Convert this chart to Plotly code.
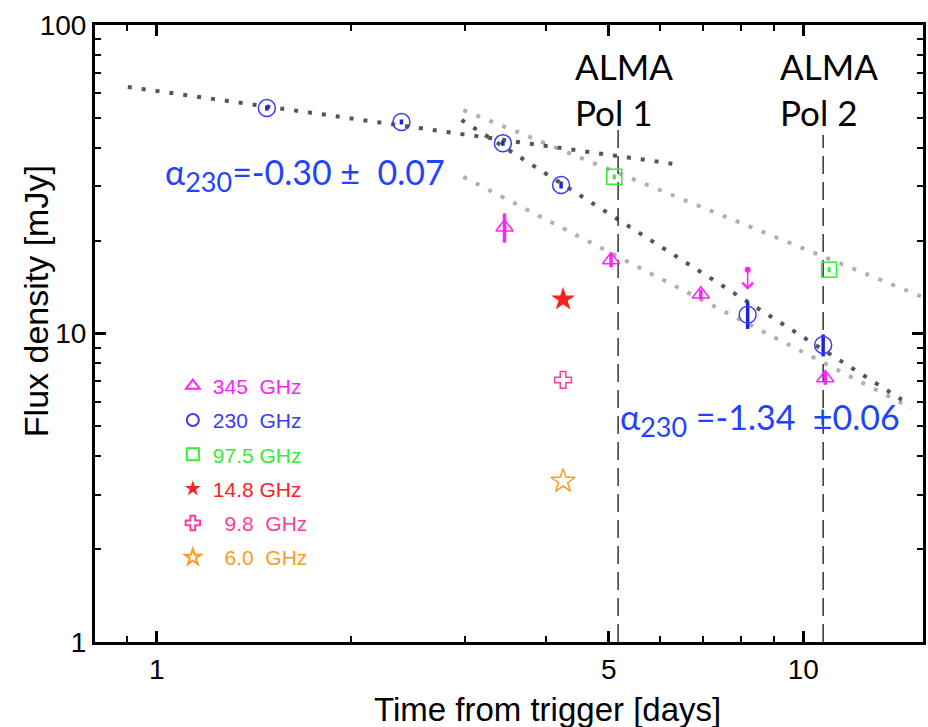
import numpy as np
import plotly.graph_objects as go

# ---------------- data ----------------
# 345 GHz
t345 = [3.45, 5.04, 6.94, 10.81]
f345 = [22.1, 17.3, 13.4, 7.17]
e345 = [2.4, 0.9, 0.5, 0.35]
# 345 GHz upper limit
t345_ul = [8.2]
f345_ul = [16.1]
# 230 GHz
t230 = [1.48, 2.39, 3.43, 4.22, 8.20, 10.73]
f230 = [53.8, 48.5, 41.4, 30.3, 11.5, 9.18]
e230 = [1.0, 0.9, 0.8, 0.8, 1.15, 0.75]
# 97.5 GHz
t975 = [5.10, 10.96]
f975 = [32.2, 16.1]
e975 = [0.6, 0.3]
# 14.8, 9.8, 6.0 GHz
t148 = [4.25]
f148 = [12.9]
t98 = [4.25]
f98 = [7.07]
t60 = [4.25]
f60 = [3.32]

# power-law fits (dotted lines)
fit_early_t = [0.902, 6.33]
fit_early_f = [63.0, 35.4]
fit_late_t = [2.96, 14.2]
fit_late_f = [49.2, 6.1]
fit_975_t = [2.98, 15.2]
fit_975_f = [53.0, 13.2]
fit_345_t = [2.98, 14.7]
fit_345_f = [32.2, 5.73]

# ALMA polarisation epochs
pol_t = [5.17, 10.73]
pol_top = [46.7, 44.0]
pol_labels = ["ALMA<br>Pol 1", "ALMA<br>Pol 2"]

# ---------------- figure ----------------
C345 = "#ff22ff"
C230 = "#3a3aff"
C975 = "#33ee33"
C148 = "#ff2020"
C98 = "#ff3c9c"
C60 = "#ff9a22"
DARK = "#555555"
LIGHT = "#b0b0b0"
BLUE = "#1f44ff"
NB = "\u00a0"

fig = go.Figure()

for tt, ff, col in [(fit_975_t, fit_975_f, LIGHT), (fit_345_t, fit_345_f, LIGHT),
                    (fit_early_t, fit_early_f, DARK), (fit_late_t, fit_late_f, DARK)]:
    fig.add_trace(go.Scatter(x=tt, y=ff, mode="lines", showlegend=False,
                             line=dict(color=col, width=4, dash="4px,10px")))

for tx, top in zip(pol_t, pol_top):
    fig.add_trace(go.Scatter(x=[tx, tx], y=[1, top], mode="lines", showlegend=False,
                             line=dict(color="#333333", width=1.5, dash="18px,8px")))

fig.add_trace(go.Scatter(
    x=t345, y=f345, mode="markers", legendgroup="a",
    name=f"<span style='color:{C345}'>345{NB}{NB}GHz</span>",
    marker=dict(symbol="triangle-up-open", size=15, color=C345, line=dict(width=1.5, color=C345)),
    error_y=dict(type="data", array=e345, color=C345, thickness=3.5, width=0)))
fig.add_trace(go.Scatter(
    x=t230, y=f230, mode="markers", legendgroup="b",
    name=f"<span style='color:{C230}'>230{NB}{NB}GHz</span>",
    marker=dict(symbol="circle-open", size=17, color=C230, line=dict(width=1.5, color=C230)),
    error_y=dict(type="data", array=e230, color="#2020dd", thickness=3.5, width=0)))
fig.add_trace(go.Scatter(
    x=t975, y=f975, mode="markers", legendgroup="c",
    name=f"<span style='color:{C975}'>97.5{NB}GHz</span>",
    marker=dict(symbol="square-open", size=15, color=C975, line=dict(width=1.5, color=C975)),
    error_y=dict(type="data", array=e975, color=C975, thickness=3, width=0)))
fig.add_trace(go.Scatter(
    x=t148, y=f148, mode="markers", legendgroup="d",
    name=f"<span style='color:{C148}'>14.8{NB}GHz</span>",
    marker=dict(symbol="star", size=18, color=C148, line=dict(width=0))))
fig.add_trace(go.Scatter(
    x=t98, y=f98, mode="markers", legendgroup="e",
    name=f"<span style='color:{C98}'>{NB}{NB}9.8{NB}{NB}GHz</span>",
    marker=dict(symbol="cross-open", size=14, color=C98, line=dict(width=1.5, color=C98))))
fig.add_trace(go.Scatter(
    x=t60, y=f60, mode="markers", legendgroup="f",
    name=f"<span style='color:{C60}'>{NB}{NB}6.0{NB}{NB}GHz</span>",
    marker=dict(symbol="star-open", size=18, color=C60, line=dict(width=1.5, color=C60))))

# upper limit: dot + downward arrow
fig.add_trace(go.Scatter(x=t345_ul, y=f345_ul, mode="markers", showlegend=False,
                         marker=dict(symbol="circle", size=6, color=C345)))
annotations = []
for tx, fy in zip(t345_ul, f345_ul):
    annotations.append(dict(x=np.log10(tx), y=np.log10(fy), xref="x", yref="y",
                            showarrow=True, ax=0, ay=-20, yshift=-20, text="",
                            arrowhead=4, arrowsize=1.3, arrowwidth=1.6, arrowcolor=C345))

for tx, lab in zip(pol_t, pol_labels):
    annotations.append(dict(x=np.log10(tx), y=0.897, xref="x", yref="paper", xshift=-45,
                            text=lab, showarrow=False, xanchor="left", yanchor="middle",
                            align="left", font=dict(family="Lato", size=35, color="black")))

SUB = "<sub><span style='font-size:27px'>230</span></sub>"
annotations += [
    dict(x=0.082, y=0.757, xref="paper", yref="paper", showarrow=False, xanchor="left",
         yanchor="middle", text=f"α{SUB}=-0.30{NB}±{NB}{NB}0.07",
         font=dict(family="Lato", size=34, color=BLUE)),
    dict(x=0.632, y=0.36, xref="paper", yref="paper", showarrow=False, xanchor="left",
         yanchor="middle", text=f"α{SUB}{NB}=-1.34{NB}{NB}±0.06",
         font=dict(family="Lato", size=34, color=BLUE)),
    dict(x=0.546, y=-0.110, xref="paper", yref="paper", showarrow=False,
         text="Time from trigger [days]", xanchor="center", yanchor="middle",
         font=dict(family="Liberation Sans", size=33, color="black")),
    dict(x=-0.072, y=0.553, xref="paper", yref="paper", showarrow=False, textangle=-90,
         text="Flux density [mJy]", xanchor="center", yanchor="middle",
         font=dict(family="Liberation Sans", size=34, color="black")),
]

axis_common = dict(showline=True, linecolor="black", linewidth=3, mirror="ticks",
                   ticks="inside", ticklen=11, tickwidth=2.5, tickcolor="black",
                   showgrid=False, zeroline=False,
                   tickfont=dict(family="Liberation Sans", size=28, color="black"))

fig.update_layout(
    width=928, height=727,
    margin=dict(l=95, r=2, t=25, b=85),
    paper_bgcolor="white", plot_bgcolor="white",
    xaxis=dict(type="log", range=[-0.0955, 1.185],
               tickvals=[1, 5, 10], ticktext=["1", "5", "10"],
               minor=dict(tickvals=[0.9, 2, 3, 4, 6, 7, 8, 9], ticklen=6, tickwidth=2,
                          tickcolor="black", ticks="inside", showgrid=False),
               **axis_common),
    yaxis=dict(type="log", range=[0, 2],
               tickvals=[1, 10, 100], ticktext=["1", "10", "100"],
               minor=dict(tickvals=[2, 3, 4, 5, 6, 7, 8, 9, 20, 30, 40, 50, 60, 70, 80, 90],
                          ticklen=6, tickwidth=2, tickcolor="black", ticks="inside",
                          showgrid=False),
               **axis_common),
    legend=dict(x=0.094, y=0.448, xanchor="left", yanchor="top",
                bgcolor="rgba(0,0,0,0)", borderwidth=0, tracegroupgap=4,
                itemsizing="constant",
                font=dict(family="Liberation Sans", size=21)),
    annotations=annotations,
    showlegend=True,
)

fig.write_html("out.html")
